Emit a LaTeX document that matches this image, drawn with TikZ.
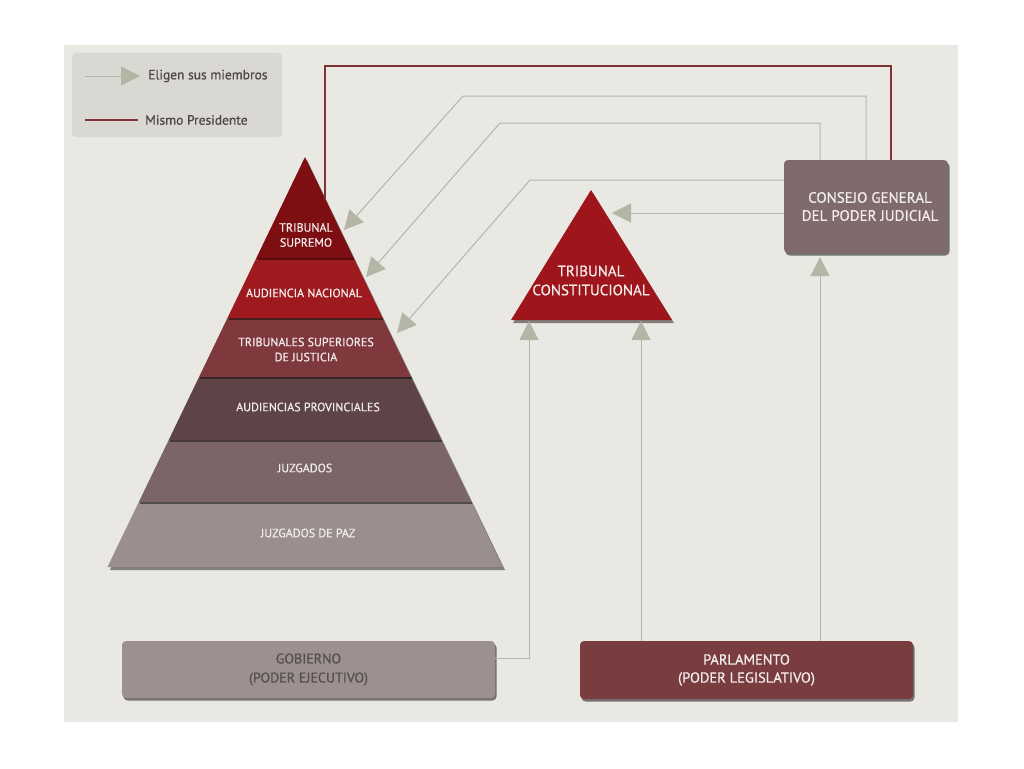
\documentclass[tikz,border=0pt]{standalone}
\usepackage{fontspec}
\setmainfont{PT Sans}
\newfontfamily\cond[FakeBold=0.7]{PT Sans}
\usetikzlibrary{arrows.meta,shadows}
\definecolor{panel}{HTML}{E9E8E3}
\definecolor{legbox}{HTML}{D9D8D3}
\definecolor{tsc}{HTML}{7D0E12}
\definecolor{anc}{HTML}{9E1A1F}
\definecolor{tsjc}{HTML}{7F383B}
\definecolor{apc}{HTML}{5E4446}
\definecolor{jzc}{HTML}{7C6566}
\definecolor{jpc}{HTML}{9B8E8E}
\definecolor{tcc}{HTML}{9E161C}
\definecolor{cgpjc}{HTML}{7F6B6D}
\definecolor{gobc}{HTML}{9C9190}
\definecolor{parlc}{HTML}{7A3D3F}
\definecolor{lineg}{HTML}{B5B5AE}
\definecolor{arrowc}{HTML}{B4B5A5}
\definecolor{presc}{HTML}{7C3434}
\definecolor{textlight}{HTML}{F2ECEC}
\definecolor{gobtext}{HTML}{564E4E}
\definecolor{legtext}{HTML}{4F4646}
\begin{document}
\begin{tikzpicture}[x=1pt,y=-1pt,
  box/.style={rectangle, rounded corners=4pt, align=center, inner sep=0pt,
    drop shadow={shadow xshift=1.5pt, shadow yshift=-2.5pt, opacity=0.5, fill=black}},
  ptext/.style={align=center, text=textlight, inner sep=0pt, font=\cond\fontsize{12}{15}\selectfont},
  conn/.style={draw=lineg, line width=1pt, -{Triangle[length=19pt,width=19pt,fill=arrowc,color=arrowc]}},
  pres/.style={draw=presc, line width=1.2pt},
  sep/.style={draw=black, opacity=0.45, line width=2pt},
  legtxt/.style={anchor=west, text=legtext, inner sep=0pt, font=\cond\fontsize{13.5}{15}\selectfont}
]
% background
\fill[white] (0,0) rectangle (1024,768);
\fill[panel] (64,45) rectangle (958,722);

% legend
\fill[legbox, rounded corners=4pt] (72,53) rectangle (282,137);
\coordinate (l1a) at (85,76);
\coordinate (l1b) at (140,76);
\coordinate (l2a) at (85,120);
\coordinate (l2b) at (138,120);
\draw[conn] (l1a) -- (l1b);
\node[legtxt] (leg1) at (148,76) {Eligen sus miembros};
\draw[pres] (l2a) -- (l2b);
\node[legtxt] (leg2) at (145,120) {Mismo Presidente};

% pyramid shadow
\fill[black, opacity=0.45] (307,160) -- (505,570) -- (110,570) -- cycle;
% pyramid layers
\fill[tsc] (305,157) -- (353.65,258) -- (256.35,258) -- cycle;
\fill[anc] (256.35,258) -- (353.65,258) -- (382.55,318) -- (227.45,318) -- cycle;
\fill[tsjc] (227.45,318) -- (382.55,318) -- (410.98,377) -- (199.02,377) -- cycle;
\fill[apc] (199.02,377) -- (410.98,377) -- (441.3,440) -- (168.7,440) -- cycle;
\fill[jzc] (168.7,440) -- (441.3,440) -- (471.2,502) -- (138.8,502) -- cycle;
\fill[jpc] (138.8,502) -- (471.2,502) -- (502.5,567) -- (107.5,567) -- cycle;
\draw[sep] (257.5,259) -- (354,259);
\draw[sep] (228.5,319) -- (383,319);
\draw[sep] (200,378) -- (411.5,378);
\draw[sep] (169.5,441) -- (441.8,441);
\draw[sep] (139.5,503) -- (471.7,503);

\node[ptext] (ts) at (306,235) {TRIBUNAL\\SUPREMO};
\node[ptext] (an) at (304,293) {AUDIENCIA NACIONAL};
\node[ptext] (tsj) at (306,349.5) {TRIBUNALES SUPERIORES\\DE JUSTICIA};
\node[ptext] (ap) at (308,407) {AUDIENCIAS PROVINCIALES};
\node[ptext] (jz) at (305,468) {JUZGADOS};
\node[ptext] (jp) at (308,533) {JUZGADOS DE PAZ};

% tribunal constitucional
\fill[black, opacity=0.45] (593,193) -- (674,323) -- (513,323) -- cycle;
\fill[tcc] (591,190) -- (672,320) -- (511,320) -- cycle;
\node[ptext, font=\cond\fontsize{15}{19}\selectfont] (tc) at (591,280.5) {TRIBUNAL\\CONSTITUCIONAL};

% boxes
\node[box, fill=cgpjc, text=textlight, minimum width=164pt, minimum height=93pt,
  font=\cond\fontsize{15}{18}\selectfont] (cgpj) at (866,206.5) {\hspace*{8pt}CONSEJO GENERAL\\\hspace*{8pt}DEL PODER JUDICIAL};
\node[box, fill=gobc, text=gobtext, minimum width=373pt, minimum height=57pt,
  font=\cond\fontsize{14}{19}\selectfont] (gob) at (308.5,669.5) {GOBIERNO\\(PODER EJECUTIVO)};
\node[box, fill=parlc, text=textlight, minimum width=333pt, minimum height=58pt,
  font=\cond\fontsize{14.5}{18}\selectfont] (parl) at (746.5,670) {PARLAMENTO\\(PODER LEGISLATIVO)};

% arrow tip coordinates
\coordinate (tsA) at (344,230);
\coordinate (anA) at (366,277);
\coordinate (tsjA) at (397,333);
\coordinate (tcA) at (612,213);
\coordinate (tcL) at (529,321);
\coordinate (tcR) at (641,321);
\coordinate (pyrR) at (325,198.5);

% connectors
\draw[pres] (pyrR) |- (891,66) -- (cgpj.north -| 891,0);
\draw[conn] (cgpj.north) |- (463,96) -- (tsA);
\draw[conn] (cgpj.north -| 820,0) |- (500,123) -- (anA);
\draw[conn] (cgpj.west |- 0,180) -- (530,180) -- (tsjA);
\draw[conn] (cgpj.west |- 0,213) -- (tcA);
\draw[conn] (gob.east |- 0,658) -| (tcL);
\draw[conn] (parl.north -| 641,0) -- (tcR);
\draw[conn, shorten >=4pt] (parl.north -| 820,0) -- (cgpj.south -| 820,0);
\end{tikzpicture}
\end{document}
